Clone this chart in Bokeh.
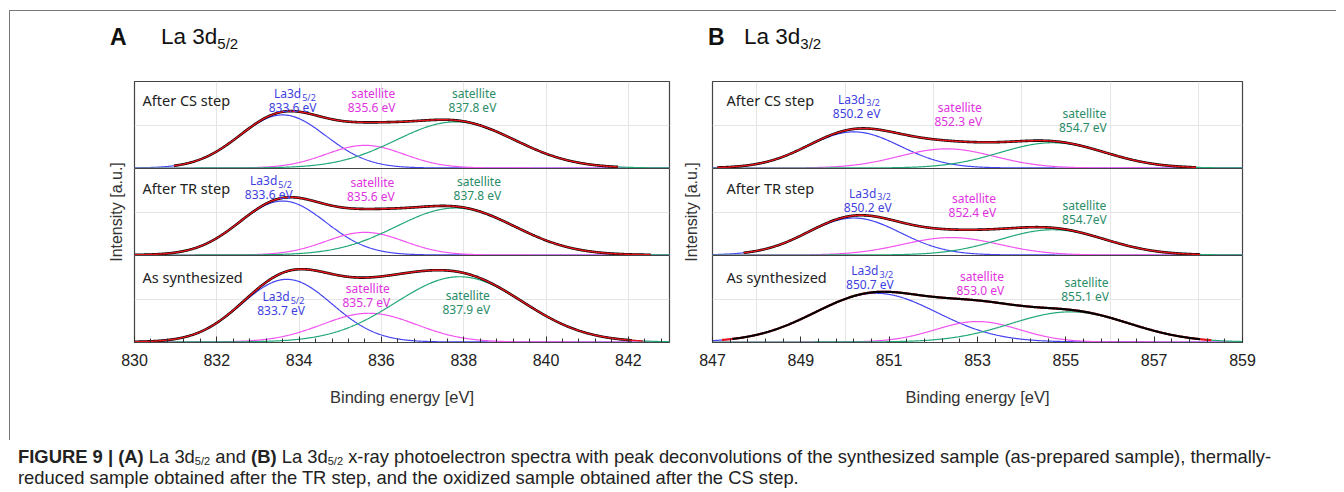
import numpy as np
from bokeh.plotting import figure
from bokeh.models import Span, FixedTicker, LinearAxis, Range1d, Div
from bokeh.layouts import row, column
from bokeh.embed import file_html
from bokeh.resources import INLINE
from bokeh.core.properties import value

# ---------------- data ----------------
stages = ["After CS step", "After TR step", "As synthesized"]   # top -> bottom

# Panel A : La 3d5/2
a_xticks = [830, 832, 834, 836, 838, 840, 842]
a_main_center = [833.6, 833.6, 833.7]
a_main_height = [0.61, 0.62, 0.72]
a_main_sigma = [1.05, 1.05, 1.10]
a_sat1_center = [835.6, 835.6, 835.7]
a_sat1_height = [0.26, 0.26, 0.33]
a_sat1_sigma = [0.95, 0.95, 1.15]
a_sat2_center = [837.8, 837.8, 837.9]
a_sat2_height = [0.53, 0.54, 0.75]
a_sat2_sigma = [1.44, 1.44, 1.55]
a_fit_start = [830.95, 830.0, 830.0]
a_fit_end = [841.75, 842.55, 842.35]
a_meas_start = [830.95, 830.0, 830.0]
a_meas_end = [841.75, 842.55, 842.1]
a_main_text = ["833.6  eV", "833.6  eV", "833.7  eV"]
a_sat1_text = ["835.6  eV", "835.6  eV", "835.7  eV"]
a_sat2_text = ["837.8  eV", "837.8  eV", "837.9  eV"]

# Panel B : La 3d3/2
b_xticks = [847, 849, 851, 853, 855, 857, 859]
b_main_center = [850.2, 850.2, 850.7]
b_main_height = [0.415, 0.425, 0.56]
b_main_sigma = [1.05, 1.05, 1.38]
b_sat1_center = [852.3, 852.4, 853.0]
b_sat1_height = [0.22, 0.20, 0.235]
b_sat1_sigma = [1.08, 1.10, 0.95]
b_sat2_center = [854.7, 854.7, 855.1]
b_sat2_height = [0.29, 0.29, 0.346]
b_sat2_sigma = [1.2, 1.2, 1.35]
b_fit_start = [847.1, 847.7, 847.2]
b_fit_end = [857.95, 858.05, 858.3]
b_meas_start = [847.1, 847.7, 847.45]
b_meas_end = [857.95, 858.05, 858.05]
b_main_text = ["850.2  eV", "850.2  eV", "850.7  eV"]
b_sat1_text = ["852.3  eV", "852.4  eV", "853.0  eV"]
b_sat2_text = ["854.7  eV", "854.7eV", "855.1  eV"]

# ---------------- label placement (layout, not data) ----------------
a_lab_x = [[833.88, 833.3, 833.6], [835.8, 835.78, 835.67], [838.25, 838.37, 838.1]]
a_lab_y = [[0.70, 0.70, 0.363], [0.70, 0.68, 0.46], [0.70, 0.685, 0.383]]
b_lab_x = [[850.3, 850.55, 850.6], [852.6, 852.92, 853.1], [855.42, 855.42, 855.47]]
b_lab_y = [[0.635, 0.556, 0.662], [0.54, 0.495, 0.60], [0.47, 0.418, 0.525]]

BLUE_L, MAG_L, GREEN_L = "#4444f2", "#f055f0", "#22a878"
BLUE_T, MAG_T, GREEN_T = "#3f3fe0", "#e033e0", "#2a8c68"
RED = "#e8141c"
F_PLOT = "Noto Sans"
F_AX = "Liberation Sans"
PX_Y = 87.0
FIG_H = 389


def gauss(x, c, h, s):
    return h * np.exp(-((x - c) ** 2) / (2.0 * s ** 2))


def panel(x0, x1, xticks, comps, fit_se, meas_se, fit_on_top, texts, lab_x, lab_y, sub, geo):
    p = figure(width=geo["w"], height=FIG_H, x_range=Range1d(x0, x1), y_range=Range1d(0, 3),
               output_backend="svg", toolbar_location=None,
               x_axis_location=None, y_axis_location=None,
               min_border_left=geo["bl"], min_border_right=geo["br"],
               min_border_top=30, min_border_bottom=FIG_H - 30 - 261)
    p.outline_line_color = "#444444"
    p.outline_line_width = 1.2
    p.background_fill_color = "white"
    p.border_fill_color = "white"

    nmin = int(round((x1 - x0) / 0.4))
    minor = [round(x0 + 0.4 * k, 3) for k in range(nmin + 1)]
    xa = LinearAxis(ticker=FixedTicker(ticks=xticks, minor_ticks=minor),
                    axis_label="Binding energy [eV]")
    xa.axis_line_color = "#444444"
    xa.major_tick_in = 6
    xa.major_tick_out = 0
    xa.minor_tick_in = 4
    xa.minor_tick_out = 0
    xa.major_tick_line_color = "#333333"
    xa.minor_tick_line_color = "#333333"
    xa.major_label_text_font = F_AX
    xa.major_label_text_font_size = "16px"
    xa.major_label_text_color = "#222222"
    xa.major_label_standoff = 11
    xa.axis_label_text_font = F_AX
    xa.axis_label_text_font_size = "16.5px"
    xa.axis_label_text_font_style = "normal"
    xa.axis_label_text_color = "#333333"
    xa.axis_label_standoff = 19
    p.add_layout(xa, "below")

    ya = LinearAxis(ticker=FixedTicker(ticks=[], minor_ticks=[]), axis_label="Intensity [a.u.]")
    ya.axis_line_color = None
    ya.major_tick_in = 0
    ya.major_tick_out = 0
    ya.minor_tick_in = 0
    ya.minor_tick_out = 0
    ya.major_label_standoff = 0
    ya.major_label_text_font_size = "0px"
    ya.axis_label_text_font = F_AX
    ya.axis_label_text_font_size = "16px"
    ya.axis_label_text_font_style = "normal"
    ya.axis_label_text_color = "#333333"
    ya.axis_label_standoff = geo["ylab"]
    p.add_layout(ya, "left")

    for loc in (1, 2):
        p.add_layout(Span(location=loc, dimension="width", line_color="#444444", line_width=1.2))

    xs = np.linspace(x0, x1, 800)
    lab_colors = [BLUE_T, MAG_T, GREEN_T]
    stage_frac = [0.79, 0.78, 0.75]
    for i in range(3):
        base = 2 - i + 0.006
        ys = []
        for (cen, hei, sig, col) in comps:
            y = gauss(xs, cen[i], hei[i], sig[i])
            ys.append(y)
            p.line(xs, base + y, line_color=col, line_width=1.2)
        env = base + ys[0] + ys[1] + ys[2]
        fm = (xs >= fit_se[0][i]) & (xs <= fit_se[1][i])
        mm = (xs >= meas_se[0][i]) & (xs <= meas_se[1][i])
        if fit_on_top[i]:
            p.line(xs[mm], env[mm], line_color="black", line_width=2.6)
            p.line(xs[fm], env[fm], line_color=RED, line_width=1.4)
        else:
            p.line(xs[fm], env[fm], line_color=RED, line_width=2.2)
            p.line(xs[mm], env[mm], line_color="black", line_width=2.2)

        # stage label
        p.text(x=[x0], y=[2 - i + stage_frac[i]], text=[stages[i]], x_offset=geo["sdx"],
               text_baseline="middle", text_align="left", text_font=value(F_PLOT),
               text_font_size="14.5px", text_color="#222222")

        # component labels
        for k in range(3):
            lx = lab_x[k][i]
            y2 = 2 - i + lab_y[k][i]
            y1 = y2 + 14.0 / PX_Y
            p.text(x=[lx], y=[y2], text=[texts[k][i]], text_align="center",
                   text_baseline="middle", text_font=value(F_PLOT),
                   text_font_size="12px", text_color=lab_colors[k])
            if k == 0:
                p.text(x=[lx], y=[y1], text=["La3d"], x_offset=7, text_align="right",
                       text_baseline="middle", text_font=value(F_PLOT),
                       text_font_size="12px", text_color=lab_colors[k])
                p.text(x=[lx], y=[y1 - 3.5 / PX_Y], text=[sub], x_offset=8, text_align="left",
                       text_baseline="middle", text_font=value(F_PLOT),
                       text_font_size="9px", text_color=lab_colors[k])
            else:
                p.text(x=[lx], y=[y1], text=["satellite"], text_align="center",
                       text_baseline="middle", text_font=value(F_PLOT),
                       text_font_size="12px", text_color=lab_colors[k])
    return p


comps_a = [(a_main_center, a_main_height, a_main_sigma, BLUE_L),
           (a_sat1_center, a_sat1_height, a_sat1_sigma, MAG_L),
           (a_sat2_center, a_sat2_height, a_sat2_sigma, GREEN_L)]
comps_b = [(b_main_center, b_main_height, b_main_sigma, BLUE_L),
           (b_sat1_center, b_sat1_height, b_sat1_sigma, MAG_L),
           (b_sat2_center, b_sat2_height, b_sat2_sigma, GREEN_L)]

geo_a = dict(w=668, bl=124, br=9, ylab=10, sdx=8)
geo_b = dict(w=658, bl=34, br=94, ylab=13, sdx=14)

pa = panel(830, 843, a_xticks, comps_a, (a_fit_start, a_fit_end), (a_meas_start, a_meas_end),
           [True, True, True], [a_main_text, a_sat1_text, a_sat2_text], a_lab_x, a_lab_y,
           "5/2", geo_a)
pb = panel(847, 859, b_xticks, comps_b, (b_fit_start, b_fit_end), (b_meas_start, b_meas_end),
           [True, True, False], [b_main_text, b_sat1_text, b_sat2_text], b_lab_x, b_lab_y,
           "3/2", geo_b)

SUB_T = '<sub style="font-size:15px; vertical-align:-5px; line-height:0;">'
titles_html = (
    '<div style="position:relative; width:1326px; height:40px; '
    'font-family:\'Liberation Sans\', Arial, sans-serif; color:#111111;">'
    '<span style="position:absolute; left:100px; top:15px; font-size:23px; line-height:23px; '
    'font-weight:bold;">A</span>'
    '<span style="position:absolute; left:151px; top:15px; font-size:22.5px; line-height:22px; '
    'white-space:nowrap;">La 3d' + SUB_T + '5/2</sub></span>'
    '<span style="position:absolute; left:698px; top:15px; font-size:23px; line-height:23px; '
    'font-weight:bold;">B</span>'
    '<span style="position:absolute; left:734px; top:15px; font-size:22.5px; line-height:22px; '
    'white-space:nowrap;">La 3d' + SUB_T + '3/2</sub></span>'
    '</div>'
)
titles = Div(text=titles_html, width=1326, height=40, margin=(0, 0, 0, 0))

block = column(titles, row(pa, pb), margin=(10, 0, 0, 9),
               styles={"border-top": "1px solid #777777", "border-left": "1px solid #777777"})

SUB_C = '<sub style="font-size:11px; vertical-align:-1.5px; line-height:0;">'
caption_html = (
    '<div style="font-family:\'Liberation Sans\', Arial, sans-serif; font-size:18.4px; '
    'line-height:21px; color:#222222; padding:6px 0 0 9px; white-space:nowrap; '
    'box-sizing:border-box; height:50px; overflow:hidden;">'
    '<b>FIGURE 9 | (A)</b> La 3d' + SUB_C + '5/2</sub> and '
    '<b>(B)</b> La 3d' + SUB_C + '5/2</sub> '
    'x-ray photoelectron spectra with peak deconvolutions of the synthesized sample '
    '(as-prepared sample), thermally-<br>reduced sample obtained after the TR step, and the '
    'oxidized sample obtained after the CS step.</div>'
)
caption = Div(text=caption_html, width=1327, height=50, margin=(0, 0, 0, 9))

layout = column(block, caption)
open("out.html", "w").write(file_html(layout, INLINE))
